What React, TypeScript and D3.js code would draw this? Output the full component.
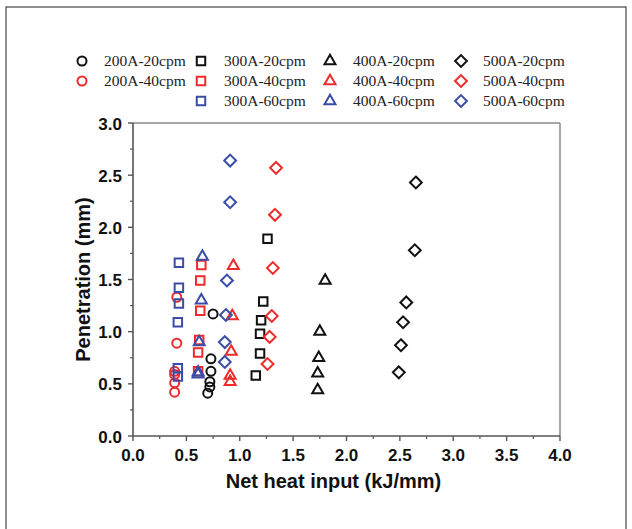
import React from "react";
import * as d3 from "d3";

// ---------- data ----------
const series200_20 = [[0.75, 1.17], [0.73, 0.74], [0.73, 0.62], [0.72, 0.52], [0.72, 0.47], [0.70, 0.41]];
const series200_40 = [[0.41, 1.33], [0.41, 0.89], [0.39, 0.62], [0.39, 0.59], [0.39, 0.51], [0.39, 0.42]];
const series300_20 = [[1.26, 1.89], [1.22, 1.29], [1.20, 1.11], [1.19, 0.98], [1.19, 0.79], [1.15, 0.58]];
const series300_40 = [[0.64, 1.64], [0.63, 1.49], [0.63, 1.20], [0.62, 0.92], [0.61, 0.80], [0.61, 0.62]];
const series300_60 = [[0.43, 1.66], [0.43, 1.42], [0.43, 1.27], [0.42, 1.09], [0.42, 0.65], [0.42, 0.57]];
const series400_20 = [[1.80, 1.49], [1.75, 1.00], [1.74, 0.75], [1.73, 0.60], [1.73, 0.44]];
const series400_40 = [[0.94, 1.63], [0.93, 1.15], [0.92, 0.81], [0.91, 0.58], [0.91, 0.52]];
const series400_60 = [[0.65, 1.72], [0.64, 1.30], [0.62, 0.90], [0.61, 0.61], [0.61, 0.59]];
const series500_20 = [[2.65, 2.43], [2.64, 1.78], [2.56, 1.28], [2.53, 1.09], [2.51, 0.87], [2.49, 0.61]];
const series500_40 = [[1.34, 2.57], [1.33, 2.12], [1.31, 1.61], [1.30, 1.15], [1.28, 0.95], [1.26, 0.69]];
const series500_60 = [[0.91, 2.64], [0.91, 2.24], [0.88, 1.49], [0.87, 1.16], [0.86, 0.90], [0.86, 0.71]];

const currents = ["200A", "300A", "400A", "500A"];
const speeds = ["20cpm", "40cpm", "60cpm"];
const seriesNames = [
  "200A-20cpm", "200A-40cpm",
  "300A-20cpm", "300A-40cpm", "300A-60cpm",
  "400A-20cpm", "400A-40cpm", "400A-60cpm",
  "500A-20cpm", "500A-40cpm", "500A-60cpm",
];
const seriesValues = [
  series200_20, series200_40,
  series300_20, series300_40, series300_60,
  series400_20, series400_40, series400_60,
  series500_20, series500_40, series500_60,
];
const xTicks = [0, 0.5, 1, 1.5, 2, 2.5, 3, 3.5, 4];
const yTicks = [0, 0.5, 1, 1.5, 2, 2.5, 3];
const xTitle = "Net heat input (kJ/mm)";
const yTitle = "Penetration (mm)";

// ---------- styles ----------
const speedColor: Record<string, string> = { "20cpm": "#111111", "40cpm": "#ee2a2a", "60cpm": "#3a4ca8" };

const diamondType = {
  draw(ctx: any, size: number) {
    const r = Math.sqrt(size / 2);
    ctx.moveTo(0, -r);
    ctx.lineTo(r, 0);
    ctx.lineTo(0, r);
    ctx.lineTo(-r, 0);
    ctx.closePath();
  },
};
const currentShape: Record<string, any> = {
  "200A": { type: d3.symbolCircle, size: 64 },
  "300A": { type: d3.symbolSquare, size: 72 },
  "400A": { type: d3.symbolTriangle, size: 52 },
  "500A": { type: diamondType, size: 70 },
};

const W = 632, H = 529;
const M = { left: 133, right: 560, top: 123, bottom: 436 };
const axisColor = "#555555";
const sansBold = "'Liberation Sans', Arial, sans-serif";
const serif = "'Liberation Serif', 'Times New Roman', serif";

function Marker({ name, x, y }: { name: string; x: number; y: number }) {
  const [cur, spd] = name.split("-");
  const sh = currentShape[cur];
  const path = d3.symbol().type(sh.type).size(sh.size)() as string;
  return (
    <path
      d={path}
      transform={`translate(${x},${y})`}
      fill="none"
      stroke={speedColor[spd]}
      strokeWidth={2}
    />
  );
}

export default function App() {
  const x = d3.scaleLinear().domain([0, 4]).range([M.left, M.right]);
  const y = d3.scaleLinear().domain([0, 3]).range([M.bottom, M.top]);
  const xMinor = d3.range(0.25, 4, 0.5);
  const yMinor = d3.range(0.25, 3, 0.5);

  const legendColSym = [82, 201, 330, 461];
  const legendColText = [104, 224, 353, 483];
  const legendRowY = [61, 81, 101];

  return (
    <svg
      width={W}
      height={H}
      style={{ position: "fixed", left: 0, top: 0, background: "#fff" }}
    >
      <rect x={0} y={0} width={W} height={H} fill="#fff" />
      <rect x={6} y={7} width={620} height={540} fill="none" stroke="#444" strokeWidth={1.2} />

      {/* legend */}
      {seriesNames.map((name) => {
        const [cur, spd] = name.split("-");
        const ci = currents.indexOf(cur);
        const ri = speeds.indexOf(spd);
        return (
          <g key={"lg" + name}>
            <Marker name={name} x={legendColSym[ci]} y={legendRowY[ri]} />
            <text
              x={legendColText[ci]}
              y={legendRowY[ri] + 5}
              fontFamily={serif}
              fontSize={15.5}
              fill="#222"
            >
              {name}
            </text>
          </g>
        );
      })}

      {/* plot frame */}
      <line x1={M.left} x2={M.right} y1={M.top} y2={M.top} stroke="#888" strokeWidth={1.5} />
      <line x1={M.right} x2={M.right} y1={M.top} y2={M.bottom} stroke="#888" strokeWidth={1.5} />
      <line x1={M.left} x2={M.right} y1={M.bottom} y2={M.bottom} stroke={axisColor} strokeWidth={1.6} />
      <line x1={M.left} x2={M.left} y1={M.top} y2={M.bottom} stroke={axisColor} strokeWidth={1.6} />

      {/* x ticks */}
      {xTicks.map((t) => (
        <g key={"xt" + t}>
          <line x1={x(t)} x2={x(t)} y1={M.bottom} y2={M.bottom + 5} stroke={axisColor} strokeWidth={1.4} />
          <text
            x={x(t)}
            y={M.bottom + 25}
            textAnchor="middle"
            fontFamily={sansBold}
            fontWeight="bold"
            fontSize={17}
            fill="#111"
          >
            {d3.format(".1f")(t)}
          </text>
        </g>
      ))}
      {xMinor.map((t) => (
        <line key={"xm" + t} x1={x(t)} x2={x(t)} y1={M.bottom} y2={M.bottom + 3} stroke={axisColor} strokeWidth={1.2} />
      ))}

      {/* y ticks */}
      {yTicks.map((t) => (
        <g key={"yt" + t}>
          <line x1={M.left - 5} x2={M.left} y1={y(t)} y2={y(t)} stroke={axisColor} strokeWidth={1.4} />
          <text
            x={M.left - 11}
            y={y(t) + 6.5}
            textAnchor="end"
            fontFamily={sansBold}
            fontWeight="bold"
            fontSize={17}
            fill="#111"
          >
            {d3.format(".1f")(t)}
          </text>
        </g>
      ))}
      {yMinor.map((t) => (
        <line key={"ym" + t} x1={M.left - 3} x2={M.left} y1={y(t)} y2={y(t)} stroke={axisColor} strokeWidth={1.2} />
      ))}

      {/* axis titles */}
      <text
        x={(M.left + M.right) / 2 - 13}
        y={488}
        textAnchor="middle"
        fontFamily={sansBold}
        fontWeight="bold"
        fontSize={20}
        fill="#111"
      >
        {xTitle}
      </text>
      <text
        transform={`translate(90,${(M.top + M.bottom) / 2}) rotate(-90)`}
        textAnchor="middle"
        fontFamily={sansBold}
        fontWeight="bold"
        fontSize={20}
        fill="#111"
      >
        {yTitle}
      </text>

      {/* data */}
      {seriesNames.map((name, si) => (
        <g key={"s" + name}>
          {seriesValues[si].map((d, i) => (
            <Marker key={i} name={name} x={x(d[0])} y={y(d[1])} />
          ))}
        </g>
      ))}
    </svg>
  );
}
